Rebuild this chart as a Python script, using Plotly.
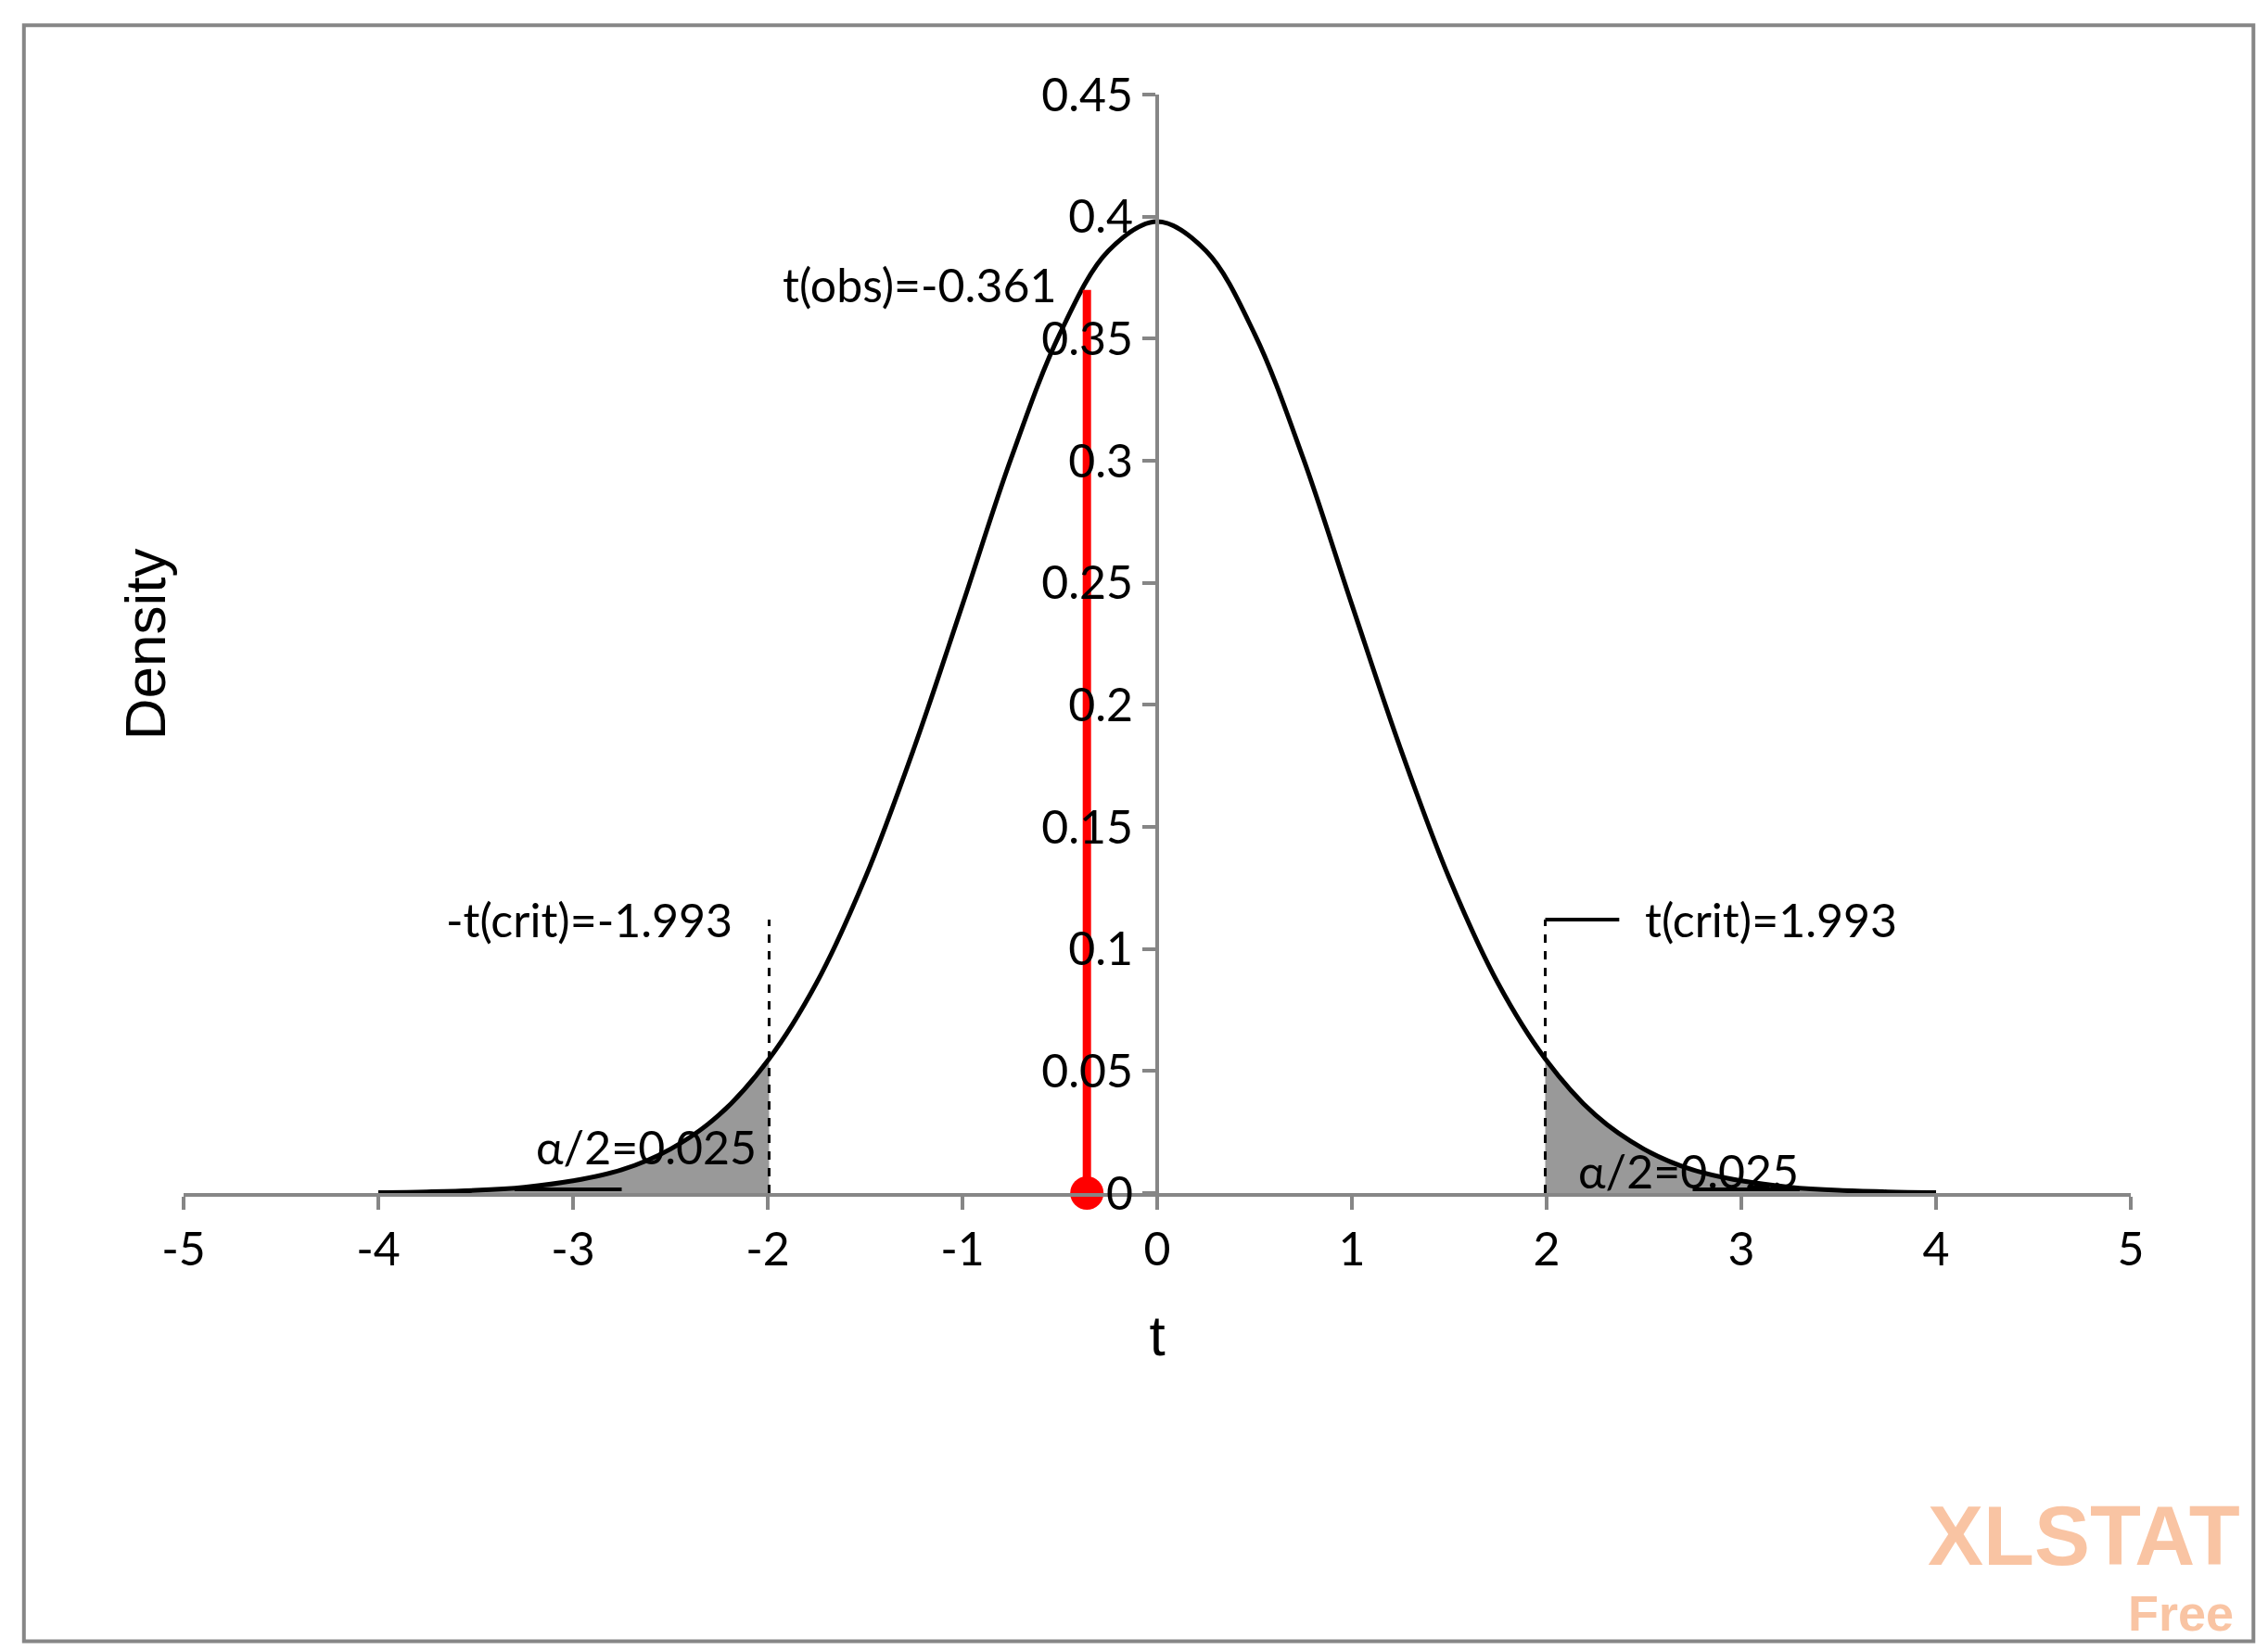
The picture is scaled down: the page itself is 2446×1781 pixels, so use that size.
import plotly.graph_objects as go

t_vals = [-4, -3.75, -3.5, -3.25, -3, -2.75, -2.5, -2.25, -1.993, -1.75, -1.5, -1.25, -1, -0.75, -0.5, -0.25, 0,
          0.25, 0.5, 0.75, 1, 1.25, 1.5, 1.75, 1.993, 2.25, 2.5, 2.75, 3, 3.25, 3.5, 3.75, 4]
dens = [0.0002, 0.0005, 0.0011, 0.0024, 0.005, 0.0095, 0.018, 0.032, 0.055, 0.086, 0.129, 0.182, 0.241, 0.301, 0.352, 0.386, 0.398,
        0.386, 0.352, 0.301, 0.241, 0.182, 0.129, 0.086, 0.055, 0.032, 0.018, 0.0095, 0.005, 0.0024, 0.0011, 0.0005, 0.0002]
t_crit = 1.993
t_obs = -0.361
obs_height = 0.37
crit_line_top = 0.112
x_ticks = [-5, -4, -3, -2, -1, 0, 1, 2, 3, 4, 5]
x_labels = ["-5", "-4", "-3", "-2", "-1", "0", "1", "2", "3", "4", "5"]
y_ticks = [0, 0.05, 0.1, 0.15, 0.2, 0.25, 0.3, 0.35, 0.4, 0.45]

FONT = "Lato"
fig = go.Figure()
lt = [(t, d) for t, d in zip(t_vals, dens) if t <= -t_crit]
rt = [(t, d) for t, d in zip(t_vals, dens) if t >= t_crit]
for part in (lt, rt):
    fig.add_trace(go.Scatter(x=[p[0] for p in part], y=[p[1] for p in part], mode="lines",
                             line=dict(color="black", width=0, shape="spline"), fill="tozeroy",
                             fillcolor="#999999", hoverinfo="skip"))
fig.add_trace(go.Scatter(x=t_vals, y=dens, mode="lines", line=dict(color="black", width=5, shape="spline")))
for xc in (-t_crit, t_crit):
    fig.add_trace(go.Scatter(x=[xc, xc], y=[0, crit_line_top], mode="lines",
                             line=dict(color="black", width=3, dash="dash")))
fig.add_trace(go.Scatter(x=[t_crit, t_crit + 0.38], y=[crit_line_top, crit_line_top], mode="lines",
                         line=dict(color="black", width=4)))
fig.add_trace(go.Scatter(x=[-3.3, -2.75], y=[0.0015, 0.0015], mode="lines", line=dict(color="black", width=4)))
fig.add_trace(go.Scatter(x=[2.75, 3.3], y=[0.0015, 0.0015], mode="lines", line=dict(color="black", width=4)))
fig.add_trace(go.Scatter(x=[t_obs, t_obs], y=[0, obs_height], mode="lines", line=dict(color="red", width=9)))
fig.add_trace(go.Scatter(x=[t_obs], y=[0], mode="markers", marker=dict(color="red", size=36),
                         cliponaxis=False))

tf = dict(family=FONT, size=50, color="black")
anns = [
    dict(x=t_obs - 0.15, y=obs_height + 0.002, text="t(obs)=-0.361", xanchor="right", yanchor="middle"),
    dict(x=-t_crit - 0.18, y=crit_line_top, text="-t(crit)=-1.993", xanchor="right", yanchor="middle"),
    dict(x=t_crit + 0.5, y=crit_line_top, text="t(crit)=1.993", xanchor="left", yanchor="middle"),
    dict(x=-2.05, y=0.019, text="α/2=0.025", xanchor="right", yanchor="middle"),
    dict(x=2.15, y=0.009, text="α/2=0.025", xanchor="left", yanchor="middle"),
]
for a in anns:
    fig.add_annotation(showarrow=False, font=tf, **a)
fig.add_annotation(x=1.057, y=-0.312, xref="paper", yref="paper", yanchor="middle", xanchor="right",
                   text="<b>XLSTAT</b>", showarrow=False,
                   font=dict(family="Liberation Sans", size=90, color="#F9C4A3"))
fig.add_annotation(x=1.054, y=-0.382, xref="paper", yref="paper", yanchor="middle", xanchor="right",
                   text="<b>Free</b>", showarrow=False,
                   font=dict(family="Liberation Sans", size=54, color="#F9C4A3"))

fig.update_layout(
    width=2446, height=1781, showlegend=False,
    plot_bgcolor="white", paper_bgcolor="white",
    margin=dict(l=190, r=156, t=94, b=502),
    xaxis=dict(range=[-5, 5], tickvals=x_ticks, ticktext=x_labels, showgrid=False, zeroline=False, showline=True,
               linecolor="#868686", linewidth=4, ticks="outside", ticklen=14, tickwidth=4,
               tickcolor="#868686", tickfont=tf,
               title=dict(text="t", font=dict(family="Liberation Sans", size=62, color="black"), standoff=45)),
    yaxis=dict(range=[0, 0.45], tickvals=y_ticks, ticktext=[str(v) for v in y_ticks],
               showgrid=False, zeroline=False, showline=True, anchor="free", position=0.5,
               linecolor="#868686", linewidth=4, ticks="outside", ticklen=14, tickwidth=4,
               tickcolor="#868686", tickfont=tf),
    shapes=[dict(type="rect", xref="paper", yref="paper", x0=-0.082, x1=1.063, y0=-0.408, y1=1.063,
                 line=dict(color="#868686", width=4))],
)
fig.add_annotation(x=-0.037, y=0.5, xref="paper", yref="paper", text="Density", textangle=-90,
                   showarrow=False, font=dict(family="Liberation Sans", size=62, color="black"))
fig.write_html("out.html")
